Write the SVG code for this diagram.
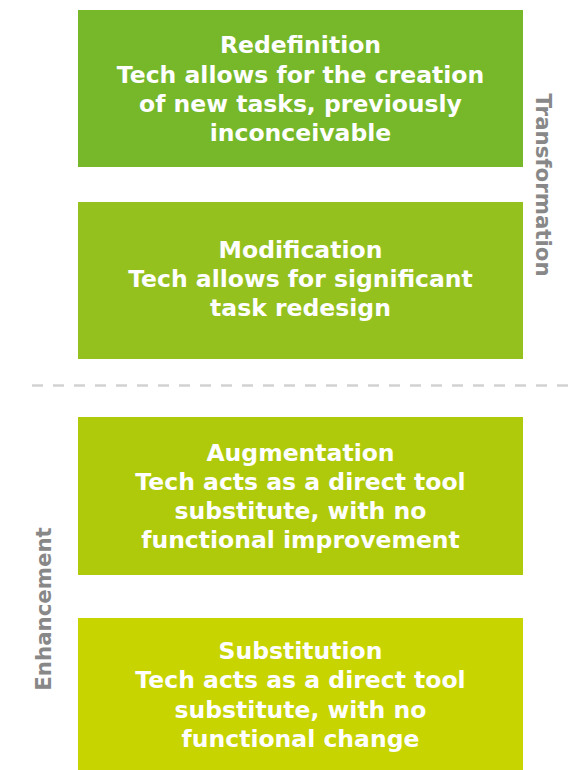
<svg xmlns="http://www.w3.org/2000/svg" width="579" height="770" viewBox="0 0 579 770">
<style>
.box text{font-family:"DejaVu Sans","Liberation Sans",sans-serif;font-weight:bold;font-size:23.5px;fill:#ffffff;text-anchor:middle}
.side{font-family:"DejaVu Sans","Liberation Sans",sans-serif;font-weight:bold;font-size:21.3px;fill:#888888;text-anchor:middle}
</style>
<rect width="579" height="770" fill="#ffffff"/>
<g id="redefinition" class="box">
<rect x="78" y="10" width="445" height="157" fill="#76b82a"/>
<text x="300.5" y="53">Redefinition</text>
<text x="300.5" y="83">Tech allows for the creation</text>
<text x="300.5" y="112">of new tasks, previously</text>
<text x="300.5" y="141">inconceivable</text>
</g>
<g id="modification" class="box">
<rect x="78" y="202" width="445" height="157" fill="#95c11f"/>
<text x="300.5" y="258">Modification</text>
<text x="300.5" y="287">Tech allows for significant</text>
<text x="300.5" y="316">task redesign</text>
</g>
<g id="augmentation" class="box">
<rect x="78" y="417" width="445" height="158" fill="#afca0b"/>
<text x="300.5" y="461">Augmentation</text>
<text x="300.5" y="490">Tech acts as a direct tool</text>
<text x="300.5" y="519">substitute, with no</text>
<text x="300.5" y="548">functional improvement</text>
</g>
<g id="substitution" class="box">
<rect x="78" y="618" width="445" height="152" fill="#c8d400"/>
<text x="300.5" y="659">Substitution</text>
<text x="300.5" y="688">Tech acts as a direct tool</text>
<text x="300.5" y="718">substitute, with no</text>
<text x="300.5" y="747">functional change</text>
</g>
<g id="connectors">
<line x1="32" y1="385.5" x2="572" y2="385.5" stroke="#d2d2d2" stroke-width="2.5" stroke-dasharray="11 10"/>
</g>
<g id="labels">
<text class="side" transform="translate(536 185) rotate(90)">Transformation</text>
<text class="side" transform="translate(51 609) rotate(-90)">Enhancement</text>
</g>
</svg>
